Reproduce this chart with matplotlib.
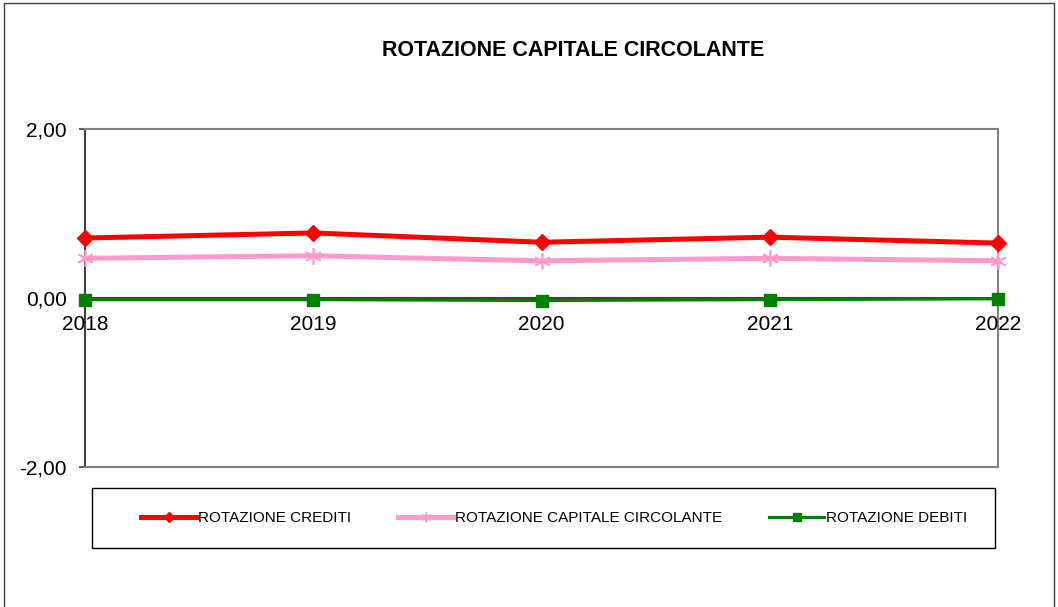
import matplotlib.pyplot as plt
from matplotlib.patches import Rectangle

plt.rcParams['font.family'] = ['Liberation Sans', 'DejaVu Sans']

years = ['2018', '2019', '2020', '2021', '2022']
rot_crediti = [0.71, 0.77, 0.66, 0.72, 0.65]
rot_capitale = [0.47, 0.50, 0.44, 0.47, 0.44]
rot_debiti = [-0.02, -0.02, -0.03, -0.02, -0.01]

fig = plt.figure(figsize=(10.58, 6.07), dpi=100)
ax = fig.add_axes([85/1058, 1-467/607, (998-85)/1058, (467-129)/607])

x = list(range(len(years)))
ax.axhline(0, color='#404040', lw=1.5, zorder=1)
ax.plot(x, rot_crediti, color='#ff0000', lw=3.6, marker='D', ms=8,
        label='ROTAZIONE CREDITI', clip_on=False, zorder=4)
ax.plot(x, rot_capitale, color='#ff99cc', lw=3.6, marker=(6, 2, 0), ms=12, mew=1.2,
        label='ROTAZIONE CAPITALE CIRCOLANTE', clip_on=False, zorder=3)
ax.plot(x, rot_debiti, color='#008000', lw=2.2, marker='s', ms=9,
        label='ROTAZIONE DEBITI', clip_on=False, zorder=5)

ax.set_xlim(0, 4)
ax.set_ylim(-2, 2)
ax.set_yticks([-2, 0, 2])
ax.set_yticklabels(['-2,00', '0,00', '2,00'], fontsize=15)
ax.set_xticks([])
for i, y in enumerate(years):
    ax.text(i, -0.2, y, ha='center', va='top', fontsize=15)

ax.tick_params(axis='y', length=4, width=1.2, color='#404040', pad=9)
for s in ['top', 'right', 'bottom']:
    ax.spines[s].set_color('#808080')
    ax.spines[s].set_linewidth(1.5)
ax.spines['left'].set_color('#404040')
ax.spines['left'].set_linewidth(1.5)

fig.text(573/1058, 1-50/607, 'ROTAZIONE CAPITALE CIRCOLANTE', ha='center', va='center',
         fontsize=15.5, fontweight='bold')

fig.patches.append(Rectangle((92/1058, 1-548/607), (995-92)/1058, 60/607,
                             transform=fig.transFigure, fill=False, edgecolor='black', lw=1))
fig.patches.append(Rectangle((4/1058, -0.02), 1050/1058, 1-3/607+0.02,
                             transform=fig.transFigure, fill=False, edgecolor='#404040', lw=1))

fig.legend(loc='center', bbox_to_anchor=(554/1058, 1-518/607), ncol=3, frameon=False,
           fontsize=11, handlelength=3.6, columnspacing=3.1, handletextpad=0.1,
           markerscale=0.6)

fig.savefig('out.png', dpi=100)
